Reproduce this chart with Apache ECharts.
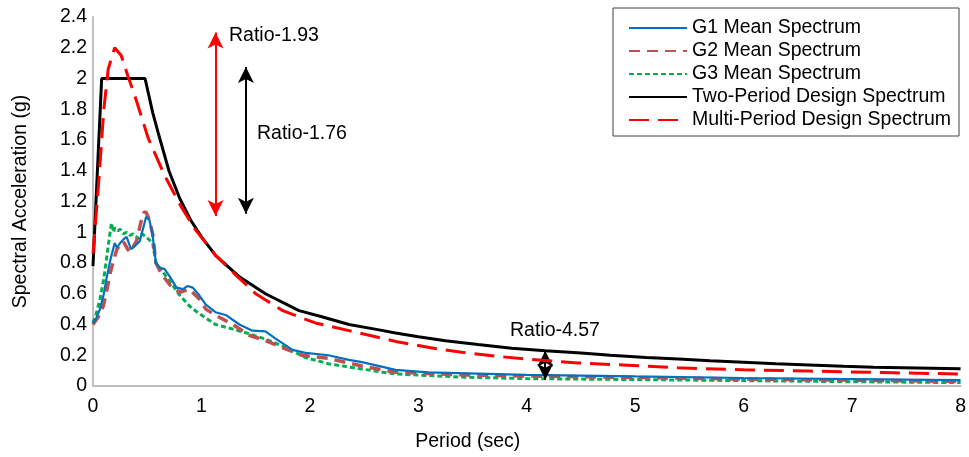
<!DOCTYPE html>
<html>
<head>
<meta charset="utf-8">
<script src="https://cdn.jsdelivr.net/npm/echarts@6/dist/echarts.min.js"></script>
<style>html,body{margin:0;padding:0;background:#fff}#c{width:969px;height:457px}</style>
</head>
<body>
<div id="c"></div>
<script>
// ---- data (Period [sec], Spectral Acceleration [g]) ----
const seriesNames = ['G1 Mean Spectrum','G2 Mean Spectrum','G3 Mean Spectrum','Two-Period Design Spectrum','Multi-Period Design Spectrum'];

const g1Mean = [[0,0.41],[0.03,0.44],[0.064,0.5],[0.1,0.6],[0.125,0.7],[0.16,0.82],[0.2,0.93],[0.22,0.9],[0.25,0.93],[0.29,0.96],[0.31,0.97],[0.35,0.89],[0.37,0.9],[0.43,0.94],[0.46,1.02],[0.49,1.1],[0.52,1.08],[0.55,0.98],[0.58,0.8],[0.615,0.77],[0.66,0.76],[0.71,0.71],[0.77,0.64],[0.83,0.63],[0.87,0.65],[0.92,0.64],[0.98,0.59],[1.04,0.53],[1.13,0.48],[1.23,0.46],[1.35,0.4],[1.47,0.36],[1.59,0.355],[1.68,0.31],[1.84,0.235],[1.96,0.215],[2.17,0.2],[2.36,0.17],[2.48,0.155],[2.79,0.105],[3.09,0.088],[3.55,0.08],[4.0,0.072],[4.5,0.068],[5.0,0.062],[6.0,0.052],[7.0,0.045],[8.0,0.038]];

const g2Mean = [[0,0.4],[0.05,0.45],[0.095,0.52],[0.13,0.63],[0.16,0.74],[0.22,0.89],[0.28,0.94],[0.32,0.89],[0.34,0.87],[0.4,0.94],[0.44,1.06],[0.47,1.13],[0.49,1.13],[0.52,1.08],[0.55,0.99],[0.58,0.8],[0.64,0.72],[0.73,0.64],[0.8,0.61],[0.89,0.63],[0.98,0.565],[1.04,0.5],[1.13,0.46],[1.29,0.4],[1.44,0.33],[1.59,0.295],[1.78,0.24],[1.93,0.2],[2.17,0.18],[2.48,0.13],[2.79,0.09],[3.4,0.072],[4.3,0.062],[5.0,0.055],[6.0,0.045],[7.0,0.038],[8.0,0.03]];

const g3Mean = [[0,0.41],[0.03,0.47],[0.064,0.565],[0.1,0.7],[0.125,0.83],[0.15,0.96],[0.17,1.06],[0.19,1.0],[0.2,1.03],[0.23,1.01],[0.25,1.02],[0.28,0.99],[0.31,1.0],[0.34,0.98],[0.37,0.99],[0.42,0.96],[0.45,0.99],[0.49,0.97],[0.55,0.93],[0.58,0.8],[0.645,0.74],[0.74,0.65],[0.8,0.59],[0.89,0.52],[0.98,0.47],[1.13,0.4],[1.29,0.37],[1.44,0.34],[1.59,0.305],[1.78,0.25],[1.96,0.185],[2.17,0.145],[2.48,0.11],[2.79,0.078],[3.4,0.058],[4.0,0.048],[5.0,0.042],[6.0,0.035],[7.0,0.028],[8.0,0.022]];

const twoPeriod = [[0,0.78],[0.08,2.0],[0.48,2.0],[0.55,1.78],[0.6,1.65],[0.7,1.4],[0.8,1.22],[0.9,1.08],[1.0,0.97],[1.13,0.85],[1.35,0.71],[1.59,0.6],[1.9,0.49],[2.11,0.45],[2.36,0.4],[2.6,0.37],[2.79,0.345],[3.0,0.32],[3.25,0.295],[3.55,0.27],[3.86,0.245],[4.17,0.23],[4.5,0.215],[4.77,0.2],[5.1,0.185],[5.4,0.175],[5.69,0.165],[6.0,0.155],[6.3,0.145],[6.6,0.137],[6.92,0.128],[7.2,0.122],[7.6,0.117],[8.0,0.112]];

const multiPeriod = [[0,0.86],[0.05,1.3],[0.1,1.8],[0.14,2.06],[0.2,2.2],[0.26,2.15],[0.32,2.02],[0.385,1.89],[0.51,1.61],[0.66,1.37],[0.81,1.17],[0.94,1.02],[1.13,0.85],[1.32,0.72],[1.5,0.6],[1.75,0.49],[2.05,0.41],[2.36,0.36],[2.79,0.29],[3.1,0.25],[3.4,0.22],[3.7,0.195],[4.0,0.175],[4.47,0.15],[4.93,0.135],[5.39,0.118],[6.0,0.105],[6.6,0.097],[7.3,0.087],[8.0,0.078]];

// ratio arrows: [period, top, bottom]
const arrowRed93 = [1.13, 2.30, 1.105];
const arrowBlack76 = [1.41, 2.075, 1.12];
const arrowBlack457 = [4.17, 0.23, 0.04];
const ratioTexts = ['Ratio-1.93', 'Ratio-1.76', 'Ratio-4.57'];

const xTicks = {min: 0, max: 8, interval: 1};
const yTicks = {min: 0, max: 2.4, interval: 0.2};

// ---- chart ----
const FONT = '"Liberation Sans", Arial, sans-serif';
const FS = 19.5;
const chart = echarts.init(document.getElementById('c'), null, {renderer: 'canvas'});

function arrowLine(a, color) {
  return {
    silent: true, animation: false,
    symbol: ['arrow', 'arrow'], symbolSize: [12, 16],
    label: {show: false},
    lineStyle: {color: color, width: 2, type: 'solid'},
    emphasis: {disabled: true},
    data: [[{coord: [a[0], a[1]]}, {coord: [a[0], a[2]]}]]
  };
}

function lineSeries(name, data, color, width, dash, z, mark) {
  const s = {
    name: name, type: 'line', data: data, showSymbol: false, symbol: 'none',
    smooth: false, z: z, animation: false,
    lineStyle: {color: color, width: width, type: dash},
    itemStyle: {color: color},
    emphasis: {disabled: true}
  };
  if (mark) s.markLine = mark;
  return s;
}

chart.setOption({
  animation: false,
  backgroundColor: '#fff',
  textStyle: {fontFamily: FONT, color: '#000'},
  grid: {left: 93, right: 5, top: 17, bottom: 70, containLabel: false},
  legend: {
    orient: 'vertical', left: 613, top: 8,
    padding: [10, 8, 6, 15],
    backgroundColor: '#fff', borderColor: '#404040', borderWidth: 1,
    itemWidth: 58, itemHeight: 14, itemGap: 3,
    itemStyle: {opacity: 0, borderWidth: 0},
    textStyle: {fontFamily: FONT, fontSize: FS, color: '#000', lineHeight: 20},
    data: seriesNames,
    selectedMode: false
  },
  xAxis: {
    type: 'value', min: xTicks.min, max: xTicks.max, interval: xTicks.interval,
    name: 'Period (sec)', nameLocation: 'middle', nameGap: 46,
    nameTextStyle: {fontFamily: FONT, fontSize: FS, color: '#000', padding: [0, 118, 0, 0]},
    axisLine: {show: true, onZero: false, lineStyle: {color: '#bfbfbf', width: 2}},
    axisTick: {show: false},
    splitLine: {show: false},
    axisLabel: {fontFamily: FONT, fontSize: FS, color: '#000', margin: 11}
  },
  yAxis: {
    type: 'value', min: yTicks.min, max: yTicks.max, interval: yTicks.interval,
    name: 'Spectral Acceleration (g)', nameLocation: 'middle', nameGap: 62,
    nameTextStyle: {fontFamily: FONT, fontSize: FS, color: '#000'},
    axisLine: {show: true, onZero: false, lineStyle: {color: '#bfbfbf', width: 2}},
    axisTick: {show: false},
    splitLine: {show: false},
    axisLabel: {fontFamily: FONT, fontSize: FS, color: '#000', margin: 6}
  },
  series: [
    lineSeries(seriesNames[0], g1Mean, '#0070c0', 2.2, 'solid', 4),
    lineSeries(seriesNames[1], g2Mean, '#c0504d', 3.5, [11, 7], 3),
    lineSeries(seriesNames[2], g3Mean, '#00b050', 3, [5, 3], 2),
    lineSeries(seriesNames[3], twoPeriod, '#000000', 3, 'solid', 5, {
      silent: true, animation: false, symbol: ['arrow', 'arrow'], symbolSize: [12, 16],
      label: {show: false}, lineStyle: {color: '#000', width: 2, type: 'solid'},
      emphasis: {disabled: true},
      data: [
        [{coord: [arrowBlack76[0], arrowBlack76[1]]}, {coord: [arrowBlack76[0], arrowBlack76[2]]}],
        [{coord: [arrowBlack457[0], arrowBlack457[1]]}, {coord: [arrowBlack457[0], arrowBlack457[2]]}]
      ]
    }),
    lineSeries(seriesNames[4], multiPeriod, '#ff0000', 3, [20, 9], 6, arrowLine(arrowRed93, '#ff0000'))
  ],
  graphic: [
    {type: 'text', left: 229, top: 26, silent: true, style: {text: ratioTexts[0], font: FS + 'px ' + FONT, fill: '#000'}},
    {type: 'text', left: 257, top: 124, silent: true, style: {text: ratioTexts[1], font: FS + 'px ' + FONT, fill: '#000'}},
    {type: 'text', left: 510, top: 321, silent: true, style: {text: ratioTexts[2], font: FS + 'px ' + FONT, fill: '#000'}}
  ]
});
</script>
</body>
</html>
